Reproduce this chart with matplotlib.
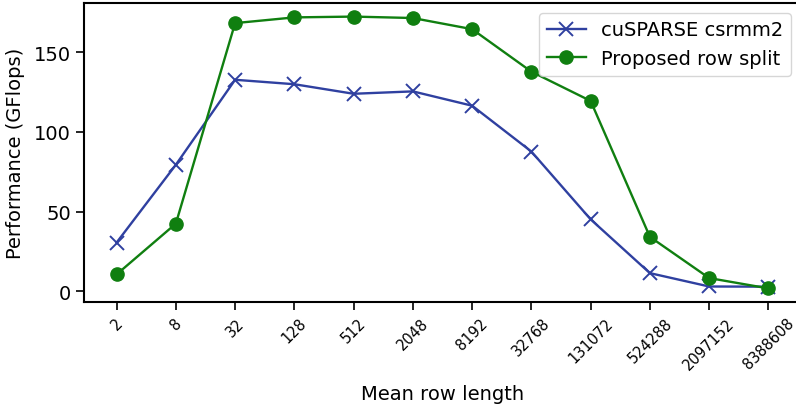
import matplotlib
matplotlib.use("Agg")
import matplotlib.pyplot as plt

categories = ["2", "8", "32", "128", "512", "2048", "8192", "32768",
              "131072", "524288", "2097152", "8388608"]
cusparse = [30.5, 79.4, 132.8, 130.0, 124.0, 125.5, 116.5, 87.7, 45.1, 11.3, 2.9, 2.8]
rowsplit = [10.5, 42.4, 168.4, 172.0, 172.5, 171.6, 164.6, 137.9, 119.5, 34.1, 8.2, 1.7]

fig = plt.figure(figsize=(7.96, 4.10), dpi=100)
ax = fig.add_axes([84/796, 1 - 303/410, (801 - 84)/796, (303 - 4)/410])

x = list(range(len(categories)))
ax.plot(x, cusparse, color="#2f40a0", marker="x", markersize=10, lw=1.7,
        markeredgewidth=1.4, label="cuSPARSE csrmm2")
ax.plot(x, rowsplit, color="#107f10", marker="o", markersize=9.5, lw=1.7,
        label="Proposed row split")

ax.set_xticks(x)
ax.set_xticklabels(categories, rotation=45, fontsize=10.5)
ax.set_yticks([0, 50, 100, 150])
ax.tick_params(axis="y", labelsize=14, length=6, width=1.2)
ax.tick_params(axis="x", length=6, width=1.2)
for s in ax.spines.values():
    s.set_linewidth(1.5)
ax.set_xlabel("Mean row length", fontsize=14, labelpad=9)
ax.set_ylabel("Performance (GFlops)", fontsize=14, labelpad=6)
ax.legend(loc="upper right", fontsize=14)

fig.savefig("out.png", dpi=100)
